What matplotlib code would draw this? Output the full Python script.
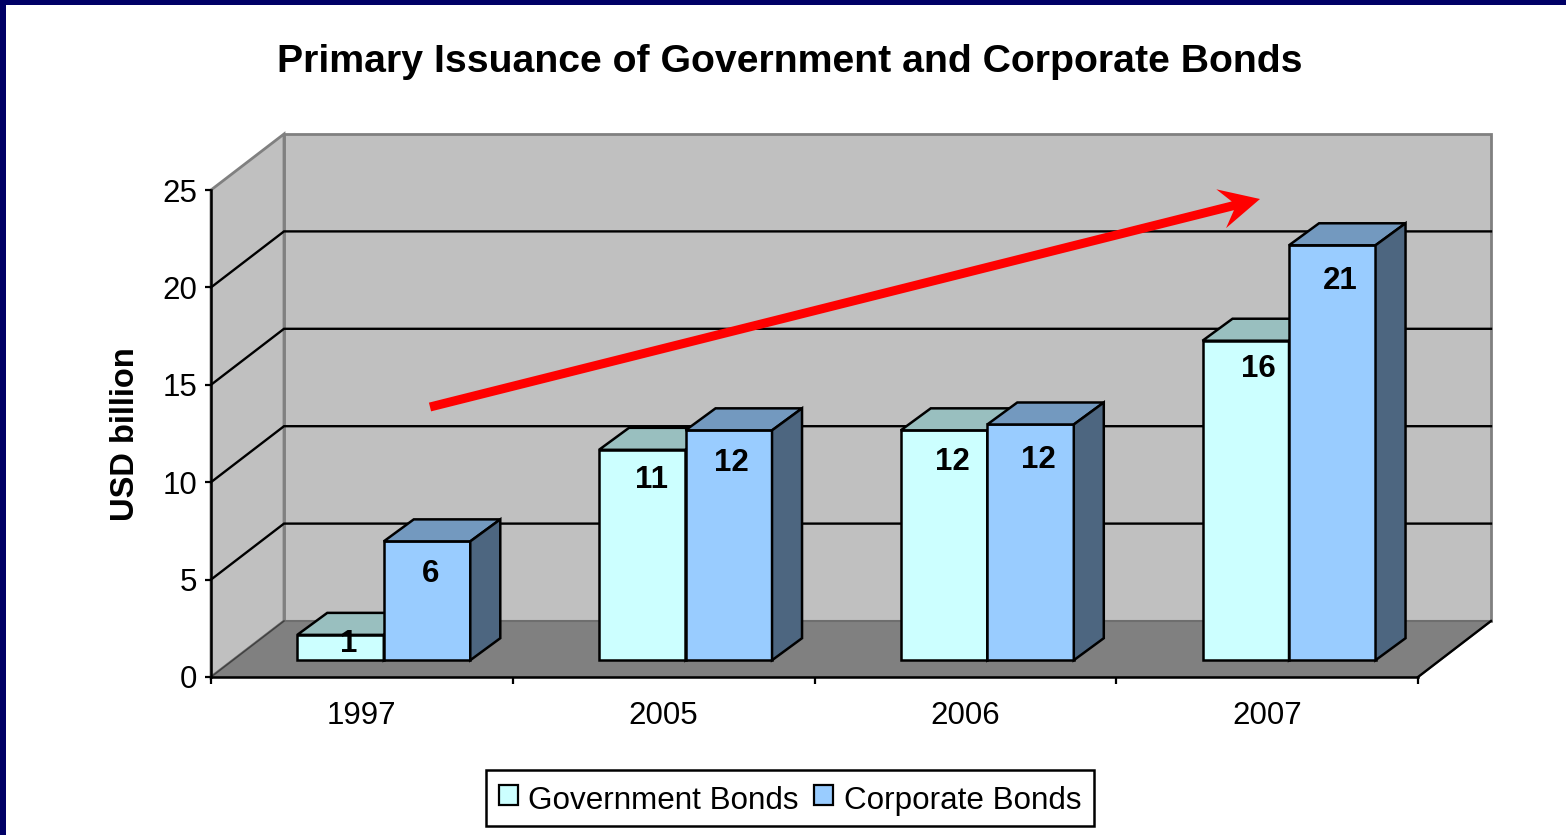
import matplotlib
matplotlib.use('Agg')
from matplotlib import pyplot as plt
from matplotlib.patches import Patch, Polygon, Rectangle

plt.rcParams['font.family'] = ['Liberation Sans', 'DejaVu Sans']

years = ['1997', '2005', '2006', '2007']
government = [1.3, 10.8, 11.8, 16.4]
corporate = [6.1, 11.8, 12.1, 21.3]
y_ticks = [0, 5, 10, 15, 20, 25]

# small pixel nudges for the value labels, (right, up) from the default spot
gov_nudge = [(1, 21), (2, 0), (1, -2), (6, 2)]
corp_nudge = [(-3, -3), (-4, -3), (1, -6), (1, -6)]

W, H = 1566, 835
# how far the back wall sits from the front plane, in data units
DEPTH_X = 73 / 301.75
DEPTH_Y = 56 / 19.48
# bars start this far back and have their own depth
BAR_NEAR = 0.30
BAR_DX = 30 / 301.75
BAR_DY = 22 / 19.48
BAR_WIDTH = 0.2867
BAR_LW = 1.8

XMIN, XMAX = -0.5, 3.5
YMAX = 25


def deep(x, y, d):
    return (x + d * DEPTH_X, y + d * DEPTH_Y)


def px(x, y):
    return (x / W, 1 - y / H)


def draw_bars(ax, centers, values, width, face, top, side):
    x0 = [c + BAR_NEAR * DEPTH_X for c in centers]
    base = BAR_NEAR * DEPTH_Y
    ax.bar(x0, values, width, bottom=base, align='edge', color=face,
           edgecolor='black', linewidth=BAR_LW, clip_on=False, zorder=3)
    for c, v in zip(x0, values):
        y = base + v
        ax.fill([c, c + width, c + width + BAR_DX, c + BAR_DX],
                [y, y, y + BAR_DY, y + BAR_DY],
                facecolor=top, edgecolor='black', linewidth=BAR_LW,
                clip_on=False, zorder=3)
        r = c + width
        ax.fill([r, r + BAR_DX, r + BAR_DX, r],
                [base, base + BAR_DY, y + BAR_DY, y],
                facecolor=side, edgecolor='black', linewidth=BAR_LW,
                clip_on=False, zorder=3)


def draw_labels(ax, centers, values, width, nudge):
    for c, v, n in zip(centers, values, nudge):
        x = c + BAR_NEAR * DEPTH_X + width / 2
        y = BAR_NEAR * DEPTH_Y + v
        ax.annotate(f'{v:.0f}', (x, y), xytext=(7 + n[0], -30 + n[1]),
                    textcoords='offset pixels', ha='center', va='center',
                    fontsize=22.5, fontweight='bold', color='black', zorder=5)


fig = plt.figure(figsize=(W / 100, H / 100), dpi=100, facecolor='white')
ax = fig.add_axes([211 / W, (H - 677) / H, 1207 / W, 487 / H])
ax.set_xlim(XMIN, XMAX)
ax.set_ylim(0, YMAX)
ax.patch.set_visible(False)

# walls and floor
wall = '#C0C0C0'
edge = '#808080'
corners = [deep(XMIN, 0, 1), deep(XMAX, 0, 1), deep(XMAX, YMAX, 1), deep(XMIN, YMAX, 1)]
ax.add_patch(Polygon(corners, closed=True, facecolor=wall, edgecolor=edge,
                     linewidth=2, clip_on=False, zorder=1))
left_wall = [(XMIN, 0), deep(XMIN, 0, 1), deep(XMIN, YMAX, 1), (XMIN, YMAX)]
ax.add_patch(Polygon(left_wall, closed=True, facecolor=wall, edgecolor=edge,
                     linewidth=2, clip_on=False, zorder=1))
floor = [(XMIN, 0), (XMAX, 0), deep(XMAX, 0, 1), deep(XMIN, 0, 1)]
ax.add_patch(Polygon(floor, closed=True, facecolor='#808080', edgecolor='#6E6E6E',
                     linewidth=1.5, clip_on=False, zorder=1))

# gridlines run along the left wall and across the back wall
for t in y_ticks[1:-1]:
    a = (XMIN, t)
    b = deep(XMIN, t, 1)
    c = deep(XMAX, t, 1)
    ax.plot([a[0], b[0], c[0]], [a[1], b[1], c[1]], color='black', linewidth=1.7,
            clip_on=False, zorder=2, solid_joinstyle='miter')

# front edges of the floor
b = deep(XMAX, 0, 1)
ax.plot([XMAX, b[0]], [0, b[1]], color='black', linewidth=1.7, clip_on=False, zorder=2)
b = deep(XMIN, 0, 1)
ax.plot([XMIN, b[0]], [0, b[1]], color='#404040', linewidth=1, clip_on=False, zorder=2)

positions = list(range(len(years)))
draw_bars(ax, [p - BAR_WIDTH for p in positions], government, BAR_WIDTH,
          '#CCFFFF', '#99BFBF', '#4D6680')
draw_bars(ax, positions, corporate, BAR_WIDTH, '#99CCFF', '#7399BF', '#4D6680')
draw_labels(ax, [p - BAR_WIDTH for p in positions], government, BAR_WIDTH, gov_nudge)
draw_labels(ax, positions, corporate, BAR_WIDTH, corp_nudge)

for s in ['top', 'right']:
    ax.spines[s].set_visible(False)
for s in ['left', 'bottom']:
    ax.spines[s].set_linewidth(1.8)
    ax.spines[s].set_zorder(4)

ax.set_yticks(y_ticks)
ax.tick_params(axis='y', direction='out', length=4, width=1.6, pad=6, labelsize=22.5)
ax.set_xticks([XMIN + i for i in range(len(years) + 1)])
ax.set_xticklabels([])
ax.set_xticks(positions, minor=True)
ax.set_xticklabels(years, minor=True)
ax.tick_params(axis='x', which='major', direction='out', length=5, width=1.6)
ax.tick_params(axis='x', which='minor', length=0, pad=17, labelsize=22.5)
ax.set_ylabel('USD billion', fontsize=23.5, fontweight='bold', labelpad=0)
ax.yaxis.set_label_coords(141 / W, (H - 434) / H, transform=fig.transFigure)

fig.text(790 / W, 1 - 62 / H, 'Primary Issuance of Government and Corporate Bonds',
         ha='center', va='center', fontsize=28.25, fontweight='bold')

# trend arrow, swept-back head
sx, sy = 430, 407
tx, ty = 1260, 199
ln = ((tx - sx) ** 2 + (ty - sy) ** 2) ** 0.5
ux, uy = (tx - sx) / ln, (ty - sy) / ln
nx, ny = -uy, ux
half, head_len, head_half, notch = 4.5, 40, 20, 28


def along(a, p):
    return px(tx - a * ux + p * nx, ty - a * uy + p * ny)


arrow = [along(ln, -half), along(notch, -half), along(head_len, -head_half), along(0, 0),
         along(head_len, head_half), along(notch, half), along(ln, half)]
fig.add_artist(Polygon(arrow, closed=True, facecolor='#FF0000', edgecolor='none',
                       transform=fig.transFigure, zorder=6))

# slide border on the left and top edges
navy = '#000066'
fig.add_artist(Rectangle((0, 0), 6 / W, 1, facecolor=navy, edgecolor='none',
                         transform=fig.transFigure, zorder=7))
fig.add_artist(Rectangle((0, 1 - 5 / H), 1, 5 / H, facecolor=navy, edgecolor='none',
                         transform=fig.transFigure, zorder=7))

handles = [Patch(facecolor='#CCFFFF', edgecolor='black', linewidth=1.6, label='Government Bonds'),
           Patch(facecolor='#99CCFF', edgecolor='black', linewidth=1.6, label='Corporate Bonds')]
leg = fig.legend(handles=handles, loc='center', bbox_to_anchor=(790 / W, 1 - 798 / H),
                 ncol=2, fontsize=22.6, frameon=True, fancybox=False, framealpha=1,
                 edgecolor='black', handlelength=0.6, handleheight=0.6,
                 handletextpad=0.33, columnspacing=0.5, borderpad=0.42, borderaxespad=0)
leg.get_frame().set_linewidth(1.8)
for t in leg.get_texts():
    t.set_y(-3)

fig.savefig('out.png', dpi=100)
